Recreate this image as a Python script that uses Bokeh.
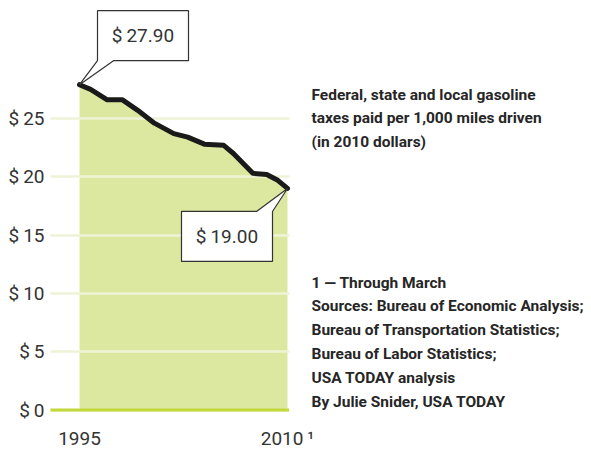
from bokeh.plotting import figure
from bokeh.models import FixedTicker, Range1d
from bokeh.embed import file_html
from bokeh.resources import INLINE
from bokeh.core.properties import value

# ---------------- data ----------------
years = [1995.0, 1995.8, 1997.0, 1998.1, 1999.2, 2000.4, 2001.8, 2002.8,
         2004.0, 2005.4, 2006.1, 2007.5, 2008.5, 2009.3, 2010.0]
taxes = [27.9, 27.5, 26.6, 26.6, 25.7, 24.6, 23.7, 23.4,
         22.8, 22.7, 22.0, 20.3, 20.2, 19.7, 19.0]
y_ticks = [0, 5, 10, 15, 20, 25]
y_tick_labels = ["$\u20090", "$\u20095", "$\u200910", "$\u200915", "$\u200920", "$\u200925"]
x_ticks = [1995, 2010]
x_tick_labels = ["1995", "2010\u2009\u00b9"]
callout_texts = ["$\u200927.90", "$\u200919.00"]
note_lines = ["Federal, state and local gasoline",
              "taxes paid per 1,000 miles driven",
              "(in 2010 dollars)"]
source_lines = ["1 \u2014 Through March",
                "Sources: Bureau of Economic Analysis;",
                "Bureau of Transportation Statistics;",
                "Bureau of Labor Statistics;",
                "USA TODAY analysis",
                "By Julie Snider, USA TODAY"]

# ---------------- layout (pixel coords) ----------------
W, H = 591, 452
FL, FR, FT, FB = 50, 591, 10, 416         # frame edges
X0PX, X1PX = 79, 287                      # where 1995 / 2010 fall
Y0PX, Y25PX = 409.5, 118                  # where 0 / 25 fall
GRID_END_PX = 288.5
pxx = (X1PX - X0PX) / 15.0
pxy = (Y0PX - Y25PX) / 25.0
x_start = 1995 - (X0PX - FL) / pxx
x_end = 1995 + (FR - X0PX) / pxx
y_end = (Y0PX - FT) / pxy
y_start = -(FB - Y0PX) / pxy


def dx(px):
    return px / pxx


def dy(px):
    return -px / pxy


def fx(px):  # pixel -> data x
    return x_start + (px - FL) / pxx


def fy(py):  # pixel -> data y
    return y_end - (py - FT) / pxy


FONT = "Roboto"
p = figure(width=W, height=H, output_backend="svg", toolbar_location=None,
           x_range=Range1d(x_start, x_end), y_range=Range1d(y_start, y_end),
           min_border_left=FL, min_border_right=W - FR,
           min_border_top=FT, min_border_bottom=H - FB)
p.outline_line_color = None
p.background_fill_color = "white"
p.border_fill_color = "white"

# grid (limited to the chart area on the left)
grid_x0, grid_x1 = x_start, fx(GRID_END_PX)
p.xgrid.visible = False
p.ygrid.ticker = FixedTicker(ticks=y_ticks)
p.ygrid.cross_bounds = (grid_x0, grid_x1)
p.ygrid.grid_line_color = "#eef3d6"
p.ygrid.grid_line_width = 2.5
p.ygrid.level = "guide"

# axes
for ax in (p.xaxis[0], p.yaxis[0]):
    ax.axis_line_color = None
    ax.major_tick_line_color = None
    ax.minor_tick_line_color = None
    ax.major_tick_out = 0
    ax.major_label_text_font = FONT
    ax.major_label_text_font_size = "19px"
    ax.major_label_text_color = "#333333"
p.yaxis.ticker = FixedTicker(ticks=y_ticks)
p.yaxis.major_label_overrides = dict(zip(y_ticks, y_tick_labels))
p.yaxis.major_label_standoff = 6
p.xaxis.ticker = FixedTicker(ticks=x_ticks)
p.xaxis.major_label_overrides = dict(zip(x_ticks, x_tick_labels))
p.xaxis.major_label_standoff = 10

# area + baseline + line
p.varea(x=years, y1=[0] * len(years), y2=taxes, fill_color="#dce8a0")
p.segment(x0=[grid_x0], y0=[y_ticks[0]], x1=[grid_x1], y1=[y_ticks[0]],
          line_color="#c3d83a", line_width=3, level="annotation")
p.line(years, taxes, line_color="#1a1a1a", line_width=5,
       line_join="round", line_cap="round", level="annotation")

# callouts
tip1 = (years[0], taxes[0])
off1 = [(18, -74), (109, -74), (109, -24), (34, -24), (0, 0), (18, -24)]
tip2 = (years[-1], taxes[-1])
off2 = [(-106, 23), (-31, 23), (0, 0), (-15, 23), (-15, 73), (-106, 73)]
for tip, offs, txt, c in ((tip1, off1, callout_texts[0], (63.5, -49)),
                          (tip2, off2, callout_texts[1], (-60.5, 48))):
    xs = [tip[0] + dx(o[0]) for o in offs]
    ys = [tip[1] + dy(o[1]) for o in offs]
    p.patch(xs, ys, fill_color="white", line_color="#333333",
            line_width=1.2, level="annotation")
    p.text(x=[tip[0] + dx(c[0])], y=[tip[1] + dy(c[1])], text=[txt],
           text_font=value(FONT), text_font_size="19px", text_color="#333333",
           text_align="center", text_baseline="middle", level="annotation")

# right-hand notes
TX = 311
note_y = [fy(94 + i * 23.8) for i in range(len(note_lines))]
src_y = [fy(282 + i * 23.8) for i in range(len(source_lines))]
for ys_, lines in ((note_y, note_lines), (src_y, source_lines)):
    p.text(x=[fx(TX)] * len(lines), y=ys_, text=lines,
           text_font=value(FONT), text_font_size="15.5px",
           text_font_style="bold", text_color="#262626",
           text_baseline="middle", level="annotation")

open("out.html", "w").write(file_html(p, INLINE))
